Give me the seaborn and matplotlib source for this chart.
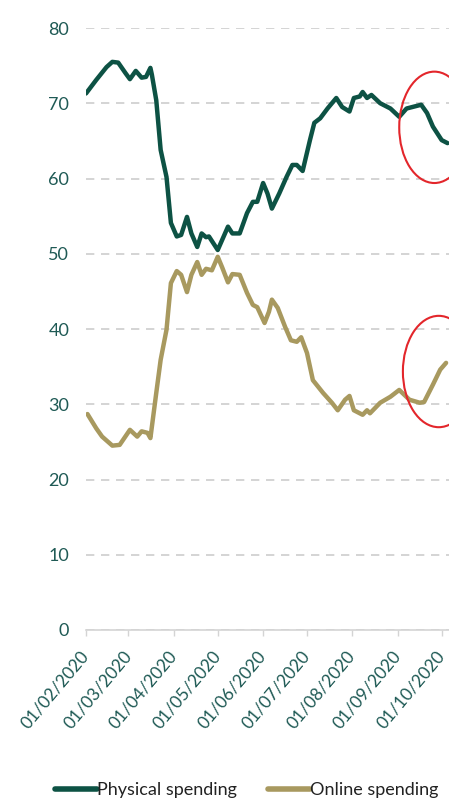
import matplotlib
matplotlib.use("Agg")
import matplotlib.pyplot as plt
import matplotlib.dates as mdates
from matplotlib.patches import Ellipse
from matplotlib.lines import Line2D
import seaborn as sns
import pandas as pd

# ---------------- data ----------------
physical_dates = [
    "2020-02-01", "2020-02-08", "2020-02-15", "2020-02-19", "2020-02-23", "2020-02-28",
    "2020-03-02", "2020-03-06", "2020-03-10", "2020-03-13", "2020-03-16", "2020-03-17",
    "2020-03-20", "2020-03-23", "2020-03-27", "2020-03-30", "2020-04-03", "2020-04-06",
    "2020-04-10", "2020-04-13", "2020-04-17", "2020-04-20", "2020-04-23", "2020-04-25",
    "2020-05-01", "2020-05-08", "2020-05-11", "2020-05-16", "2020-05-21", "2020-05-25",
    "2020-05-28", "2020-06-01", "2020-06-04", "2020-06-07", "2020-06-12", "2020-06-17",
    "2020-06-21", "2020-06-24", "2020-06-28", "2020-07-03", "2020-07-06", "2020-07-10",
    "2020-07-15", "2020-07-21", "2020-07-25", "2020-07-30", "2020-08-02", "2020-08-06",
    "2020-08-08", "2020-08-11", "2020-08-14", "2020-08-20", "2020-08-27", "2020-09-02",
    "2020-09-07", "2020-09-11", "2020-09-17", "2020-09-21", "2020-09-25", "2020-10-01",
    "2020-10-05",
]
physical_values = [
    71.3, 73.1, 74.8, 75.5, 75.4, 74.0,
    73.2, 74.3, 73.4, 73.5, 74.7, 73.8,
    70.4, 63.8, 60.2, 54.1, 52.3, 52.5,
    54.9, 52.7, 50.9, 52.7, 52.2, 52.3,
    50.5, 53.6, 52.7, 52.7, 55.4, 56.9,
    56.9, 59.4, 58.0, 56.0, 58.0, 60.2,
    61.8, 61.8, 61.0, 65.1, 67.4, 68.0,
    69.3, 70.7, 69.5, 68.9, 70.7, 70.9,
    71.5, 70.7, 71.1, 70.0, 69.3, 68.2,
    69.3, 69.5, 69.8, 68.7, 66.9, 65.1,
    64.7,
]

online_dates = [
    "2020-02-02", "2020-02-08", "2020-02-12", "2020-02-19", "2020-02-24", "2020-03-02",
    "2020-03-07", "2020-03-10", "2020-03-14", "2020-03-16", "2020-03-20", "2020-03-23",
    "2020-03-27", "2020-03-30", "2020-04-03", "2020-04-06", "2020-04-10", "2020-04-13",
    "2020-04-17", "2020-04-20", "2020-04-23", "2020-04-27", "2020-05-01", "2020-05-04",
    "2020-05-08", "2020-05-11", "2020-05-16", "2020-05-21", "2020-05-25", "2020-05-28",
    "2020-06-02", "2020-06-05", "2020-06-07", "2020-06-11", "2020-06-16", "2020-06-20",
    "2020-06-24", "2020-06-27", "2020-07-01", "2020-07-05", "2020-07-12", "2020-07-18",
    "2020-07-22", "2020-07-27", "2020-07-30", "2020-08-02", "2020-08-08", "2020-08-11",
    "2020-08-13", "2020-08-20", "2020-08-27", "2020-09-02", "2020-09-09", "2020-09-16",
    "2020-09-19", "2020-09-25", "2020-09-30", "2020-10-04",
]
online_values = [
    28.7, 26.8, 25.7, 24.5, 24.6, 26.6,
    25.7, 26.4, 26.2, 25.5, 31.5, 35.9,
    39.9, 46.1, 47.7, 47.2, 44.9, 47.2,
    48.9, 47.2, 48.0, 47.8, 49.6, 48.2,
    46.2, 47.3, 47.2, 44.8, 43.2, 42.9,
    40.8, 42.3, 43.9, 42.8, 40.3, 38.5,
    38.3, 38.9, 36.8, 33.2, 31.5, 30.2,
    29.2, 30.6, 31.1, 29.2, 28.6, 29.2,
    28.8, 30.2, 31.0, 31.9, 30.6, 30.2,
    30.3, 32.6, 34.6, 35.5,
]

series_names = ["Physical spending", "Online spending"]
series_colors = ["#0d5244", "#a8995f"]
x_tick_dates = ["2020-02-01", "2020-03-01", "2020-04-01", "2020-05-01", "2020-06-01",
                "2020-07-01", "2020-08-01", "2020-09-01", "2020-10-01"]
y_ticks = [0, 10, 20, 30, 40, 50, 60, 70, 80]

# ---------------- figure ----------------
sns.set_theme(style="white")
plt.rcParams["font.family"] = ["Lato", "DejaVu Sans"]

df = pd.concat([
    pd.DataFrame({"date": pd.to_datetime(physical_dates), "value": physical_values,
                  "series": series_names[0]}),
    pd.DataFrame({"date": pd.to_datetime(online_dates), "value": online_values,
                  "series": series_names[1]}),
], ignore_index=True)

W, H = 449, 801
fig = plt.figure(figsize=(W / 100, H / 100), dpi=100)
ax = fig.add_axes([86 / W, 1 - 630 / H, (W - 86) / W, (630 - 28) / H])

sns.lineplot(data=df, x="date", y="value", hue="series", hue_order=series_names,
             palette=series_colors, linewidth=3.2, estimator=None, legend=False,
             ax=ax, zorder=3)

ax.set_xlim(pd.Timestamp("2020-02-01"), pd.Timestamp("2020-10-06"))
ax.set_ylim(0, 80)
ax.set_yticks(y_ticks)
ax.set_xticks(pd.to_datetime(x_tick_dates))
ax.xaxis.set_major_formatter(mdates.DateFormatter("%d/%m/%Y"))
ax.set_xlabel("")
ax.set_ylabel("")

label_color = "#1f5a55"
ax.set_axisbelow(True)
ax.yaxis.grid(True, linestyle=(0, (5, 4)), color="#cdcdcd", linewidth=1.2)
ax.xaxis.grid(False)
for s in ["top", "right", "left"]:
    ax.spines[s].set_visible(False)
ax.spines["bottom"].set_color("#d4d4d4")
ax.spines["bottom"].set_linewidth(1.2)
ax.spines["bottom"].set_zorder(2.6)

ax.tick_params(axis="y", length=0, pad=12, labelsize=13, labelcolor=label_color)
ax.tick_params(axis="x", length=4.5, width=1.0, color="#d4d4d4", direction="out",
               pad=12, labelsize=12.5, labelcolor=label_color, bottom=True)
for lbl in ax.get_xticklabels():
    lbl.set_rotation(50)
    lbl.set_ha("right")
    lbl.set_va("center")
    lbl.set_rotation_mode("anchor")

# red highlight ellipses
e1 = Ellipse((mdates.date2num(pd.Timestamp("2020-09-26")), 66.8), width=48, height=14.8,
             fill=False, edgecolor="#e3262b", linewidth=1.5, zorder=4, clip_on=False)
e2 = Ellipse((mdates.date2num(pd.Timestamp("2020-09-29")), 34.35), width=49, height=14.8,
             fill=False, edgecolor="#e3262b", linewidth=1.5, zorder=4, clip_on=False)
ax.add_patch(e1)
ax.add_patch(e2)

handles = [Line2D([0], [0], color=c, lw=4) for c in series_colors]
fig.legend(handles, series_names, loc="center", bbox_to_anchor=(0.55, 1 - 790 / H),
           ncol=2, frameon=False, handlelength=2.3, handletextpad=0.05,
           columnspacing=1.7, fontsize=13, labelcolor="#222222")

fig.savefig("out.png", dpi=100)
